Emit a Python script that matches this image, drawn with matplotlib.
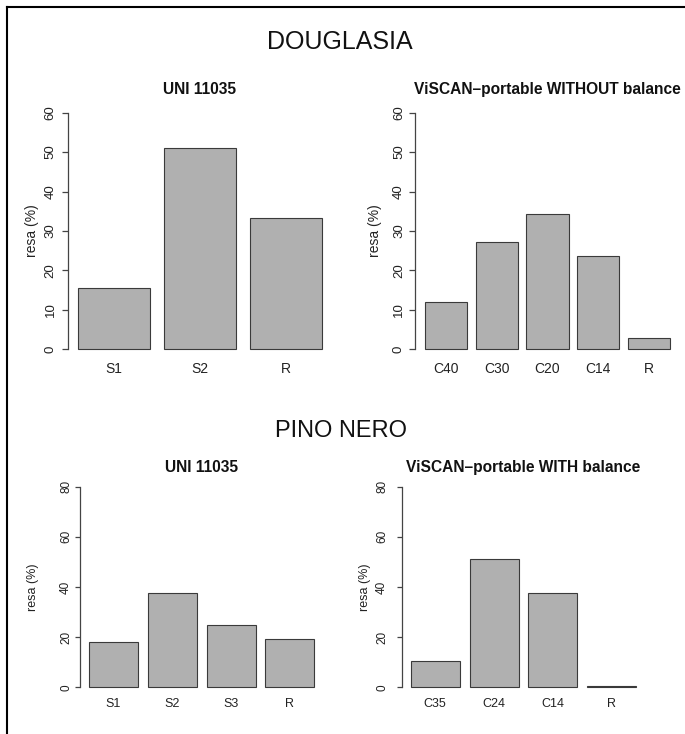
import numpy as np
import matplotlib
matplotlib.use("Agg")
import matplotlib.pyplot as plt
from matplotlib.lines import Line2D

plt.rcParams['font.family'] = ['Liberation Sans', 'DejaVu Sans']

# data
dg_uni_labels = ["S1", "S2", "R"]
dg_uni_values = [15.6, 51.1, 33.3]
dg_viscan_labels = ["C40", "C30", "C20", "C14", "R"]
dg_viscan_values = [11.9, 27.2, 34.4, 23.6, 2.9]
pn_uni_labels = ["S1", "S2", "S3", "R"]
pn_uni_values = [18.1, 37.8, 24.7, 19.4]
pn_viscan_labels = ["C35", "C24", "C14", "R"]
pn_viscan_values = [10.6, 51.3, 37.5, 0.6]

dg_yticks = [0, 10, 20, 30, 40, 50, 60]
pn_yticks = [0, 20, 40, 60, 80]

W, H = 685, 734
BAR_COLOR = "#b0b0b0"
EDGE_COLOR = "#3a3a3a"
AXIS_COLOR = "#444444"


def px_rect(x0, x1, ytop, ybot):
    """axes rectangle from pixel coords (origin top-left)"""
    return [x0 / W, 1 - ybot / H, (x1 - x0) / W, (ybot - ytop) / H]


def r_barplot(ax, labels, values, yticks, title, tick_fs, ytick_pad, ylab_x, tick_len):
    """barplot styled like R's base graphics"""
    n = len(values)
    space = 0.2
    centers = space + 0.5 + np.arange(n) * (1 + space)
    ax.bar(centers, values, width=1.0, color=BAR_COLOR, edgecolor=EDGE_COLOR, linewidth=0.8)

    # R extends the ranges by 4%
    x_lo, x_hi = space, n * (1 + space)
    dx = 0.04 * (x_hi - x_lo)
    ax.set_xlim(x_lo - dx, x_hi + dx)
    y_hi = yticks[-1]
    ax.set_ylim(-0.04 * y_hi, 1.04 * y_hi)

    for s in ["top", "right", "bottom"]:
        ax.spines[s].set_visible(False)
    ax.spines["left"].set_bounds(0, y_hi)
    ax.spines["left"].set_color(AXIS_COLOR)
    ax.spines["left"].set_linewidth(0.9)

    ax.set_xticks(centers)
    ax.set_xticklabels(labels, fontsize=tick_fs)
    ax.tick_params(axis="x", length=0, pad=2, colors="#222222")

    ax.set_yticks(yticks)
    ax.set_yticklabels([str(t) for t in yticks], fontsize=tick_fs - 0.5, rotation=90, va="center")
    ax.tick_params(axis="y", length=tick_len, width=0.9, color=AXIS_COLOR, pad=ytick_pad, labelcolor="#222222")

    ax.set_ylabel("resa (%)", fontsize=tick_fs, color="#222222")
    ax.yaxis.set_label_coords(ylab_x, 0.5)
    ax.yaxis.label.set_verticalalignment("center")

    ax.patch.set_alpha(0)
    return ax


fig = plt.figure(figsize=(W / 100, H / 100), dpi=100)

ax1 = fig.add_axes(px_rect(68, 332, 103.2, 358.8))
r_barplot(ax1, dg_uni_labels, dg_uni_values, dg_yticks, "UNI 11035", 10, 3.8, -0.136, 4.3)
ax2 = fig.add_axes(px_rect(415, 680, 103.2, 358.8))
r_barplot(ax2, dg_viscan_labels, dg_viscan_values, dg_yticks, "", 10, 2.9, -0.151, 4.3)
ax3 = fig.add_axes(px_rect(80, 323.4, 478.7, 695.3))
r_barplot(ax3, pn_uni_labels, pn_uni_values, pn_yticks, "", 9, 2.2, -0.193, 3.5)
ax4 = fig.add_axes(px_rect(401.7, 645.1, 478.7, 695.3))
r_barplot(ax4, pn_viscan_labels, pn_viscan_values, pn_yticks, "", 9, 6.3, -0.151, 3.5)

# panel titles (bold), baseline placed in pixels
panel_titles = [
    (ax1, "UNI 11035", 94.3),
    (ax2, "ViSCAN\u2013portable WITHOUT balance", 94.0),
    (ax3, "UNI 11035", 471.7),
    (ax4, "ViSCAN\u2013portable WITH balance", 471.7),
]
for ax, txt, ybase in panel_titles:
    pos = ax.get_position()
    fig.text(pos.x0 + pos.width / 2, 1 - ybase / H, txt, ha="center", va="baseline",
             fontsize=11.2, fontweight="bold", color="#111111")

# group titles
fig.text(340 / W, 1 - 49 / H, "DOUGLASIA", ha="center", va="baseline", fontsize=18, color="#111111")
fig.text(341 / W, 1 - 436.7 / H, "PINO NERO", ha="center", va="baseline", fontsize=17, color="#111111")

# frame lines visible on top and left of the original picture
fig.add_artist(Line2D([7 / W, 1], [1 - 6.7 / H, 1 - 6.7 / H], transform=fig.transFigure, color="black", lw=1.5))
fig.add_artist(Line2D([7 / W, 7 / W], [0, 1 - 6.7 / H], transform=fig.transFigure, color="black", lw=1.5))

fig.savefig("out.png", dpi=100, facecolor="white")
